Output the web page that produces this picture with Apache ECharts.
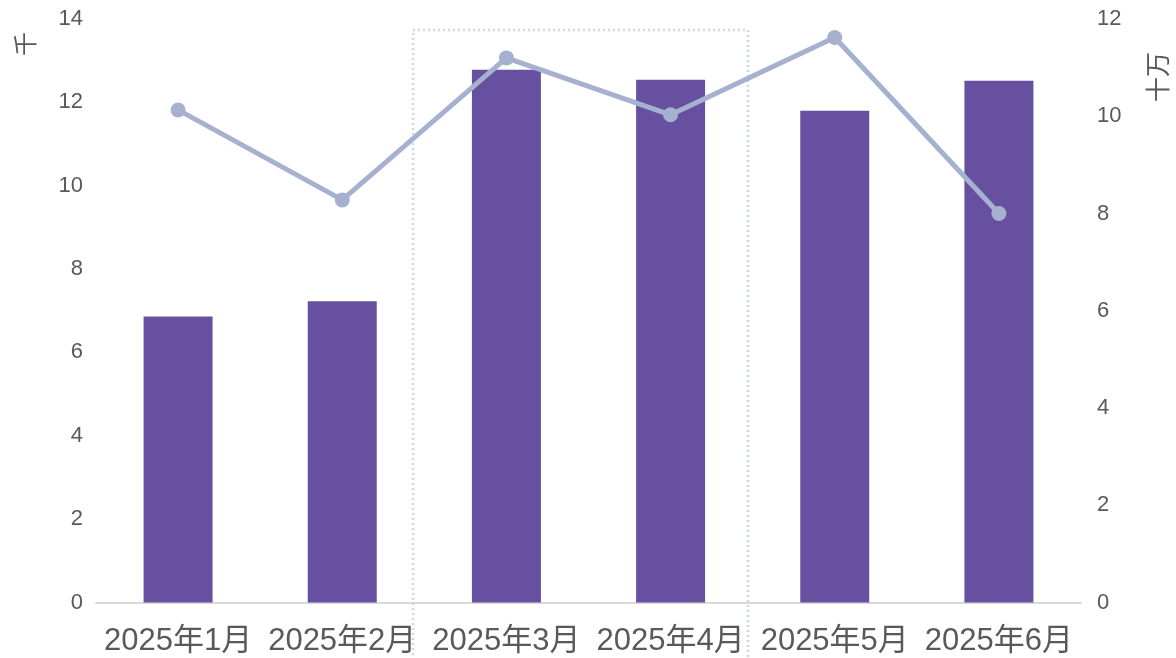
<!DOCTYPE html>
<html>
<head>
<meta charset="utf-8">
<script src="https://cdn.jsdelivr.net/npm/echarts@6/dist/echarts.min.js"></script>
<style>
  html, body { margin: 0; padding: 0; background: #fff; }
  #main { width: 1176px; height: 658px; }
</style>
</head>
<body>
<div id="main"></div>
<script>
// 数据
const months = ['2025年1月', '2025年2月', '2025年3月', '2025年4月', '2025年5月', '2025年6月'];
const barValues = [6.86, 7.23, 12.78, 12.54, 11.80, 12.52];   // 千
const lineValues = [10.13, 8.28, 11.2, 10.03, 11.62, 8.0];     // 十万

const textColor = '#595959';
const font = 'Arial, "Liberation Sans", "Noto Sans CJK SC", sans-serif';

let chart = echarts.init(document.getElementById('main'));
let option = {
  animation: false,
  textStyle: { fontFamily: font },
  grid: { left: 96, right: 95, top: 19, bottom: 55.5 },
  xAxis: {
    type: 'category',
    data: months,
    axisLine: { lineStyle: { color: '#d9d9d9', width: 2 } },
    axisTick: { show: false },
    axisLabel: { color: textColor, fontSize: 31, margin: 23, fontFamily: font, interval: 0 }
  },
  yAxis: [
    {
      type: 'value',
      min: 0, max: 14, interval: 2,
      splitLine: { show: false },
      axisLine: { show: false },
      axisTick: { show: false },
      axisLabel: { color: textColor, fontSize: 22, margin: 13, fontFamily: font }
    },
    {
      type: 'value',
      min: 0, max: 12, interval: 2,
      splitLine: { show: false },
      axisLine: { show: false },
      axisTick: { show: false },
      axisLabel: { color: textColor, fontSize: 22, margin: 16, fontFamily: font }
    }
  ],
  graphic: [
    {
      type: 'rect',
      shape: { x: 413, y: 30, width: 335, height: 640 },
      style: { fill: 'none', stroke: '#cdd5f2', lineWidth: 2.5, lineDash: [2, 3] },
      z: 1
    },
    {
      type: 'text',
      x: 15, y: 56, rotation: Math.PI / 2,
      style: { text: '千', fill: textColor, font: '24px ' + font }
    },
    {
      type: 'text',
      x: 1148, y: 102, rotation: Math.PI / 2,
      style: { text: '十万', fill: textColor, font: '25px ' + font }
    }
  ],
  series: [
    {
      name: '千',
      type: 'bar',
      data: barValues,
      yAxisIndex: 0,
      barWidth: 69,
      itemStyle: { color: '#6750a0' },
      z: 2
    },
    {
      name: '十万',
      type: 'line',
      data: lineValues,
      yAxisIndex: 1,
      symbol: 'circle',
      symbolSize: 15,
      lineStyle: { color: '#a5b1cf', width: 5 },
      itemStyle: { color: '#a5b1cf' },
      z: 3
    }
  ]
};
chart.setOption(option);
</script>
</body>
</html>
